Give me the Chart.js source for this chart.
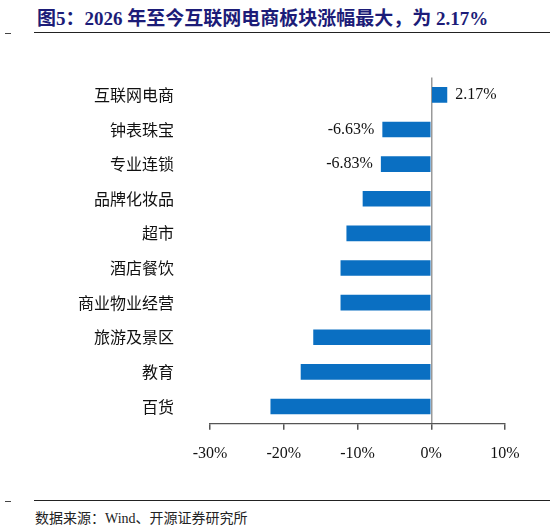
<!DOCTYPE html>
<html><head><meta charset="utf-8">
<script src="https://cdn.jsdelivr.net/npm/chart.js@4"></script>
<style>
body{margin:0;width:550px;height:530px;background:#fff;position:relative;font-family:"Liberation Serif","Noto Sans CJK SC",serif;}
#title{position:absolute;left:37px;top:3px;font-size:19px;font-weight:bold;color:#1c1c78;white-space:nowrap;}
.line{position:absolute;left:34px;width:516px;border-top:1.5px solid #222;}
.dash{position:absolute;left:5px;width:6px;border-top:1px solid #444;}
#src{position:absolute;left:35px;top:507px;font-size:14px;color:#222;}
#wrap{position:absolute;left:0;top:40px;width:550px;height:455px;}
</style></head><body>
<div id="title">图5：2026 年至今互联网电商板块涨幅最大，为 2.17%</div>
<div class="line" style="top:32px"></div><div class="dash" style="top:33px"></div>
<div class="line" style="top:500px"></div><div class="dash" style="top:501px"></div>
<div id="src">数据来源：Wind、开源证券研究所</div>
<div id="wrap"><canvas id="myChart"></canvas></div>
<script>
var categories = ["互联网电商", "钟表珠宝", "专业连锁", "品牌化妆品", "超市", "酒店餐饮", "商业物业经营", "旅游及景区", "教育", "百货"];
var values = [2.17, -6.63, -6.83, -9.3, -11.5, -12.3, -12.3, -16.0, -17.7, -21.8];
var labelled = [0, 1, 2];

var barLabels = {
    id: 'barLabels',
    afterDatasetsDraw: function (chart) {
        var ctx = chart.ctx;
        var meta = chart.getDatasetMeta(0);
        ctx.save();
        ctx.font = '16px "Liberation Serif", serif';
        ctx.fillStyle = '#111';
        ctx.textBaseline = 'middle';
        labelled.forEach(function (i) {
            var bar = meta.data[i];
            var v = values[i];
            var txt = v.toFixed(2) + '%';
            if (v >= 0) { ctx.textAlign = 'left'; ctx.fillText(txt, bar.x + 8, bar.y); }
            else { ctx.textAlign = 'right'; ctx.fillText(txt, bar.x - 8, bar.y); }
        });
        ctx.restore();
    }
};

new Chart("myChart", {
    type: "bar",
    data: {
        labels: categories,
        datasets: [{ data: values, backgroundColor: "#0a6fc2", barPercentage: 0.45, categoryPercentage: 1 }]
    },
    options: {
        indexAxis: 'y',
        responsive: true,
        maintainAspectRatio: false,
        animation: false,
        layout: { padding: { left: 50, right: 45, top: 14, bottom: 18 } },
        plugins: { legend: { display: false }, tooltip: { enabled: false } },
        scales: {
            x: {
                min: -30, max: 10,
                ticks: { stepSize: 10, color: '#111', padding: 14, font: { size: 16, family: '"Liberation Serif", serif' },
                    callback: function (v) { return v + '%'; } },
                grid: { color: function (c) { return c.tick && c.tick.value === 0 ? '#999' : 'transparent'; },
                    tickColor: '#555', tickLength: 6, lineWidth: 1.5 },
                border: { color: '#555', width: 1.2 }
            },
            y: {
                ticks: { color: '#111', padding: 28, font: { size: 16, family: '"Noto Sans CJK SC", serif' } },
                grid: { display: false },
                border: { display: false }
            }
        }
    },
    plugins: [barLabels]
});
</script>
</body></html>
